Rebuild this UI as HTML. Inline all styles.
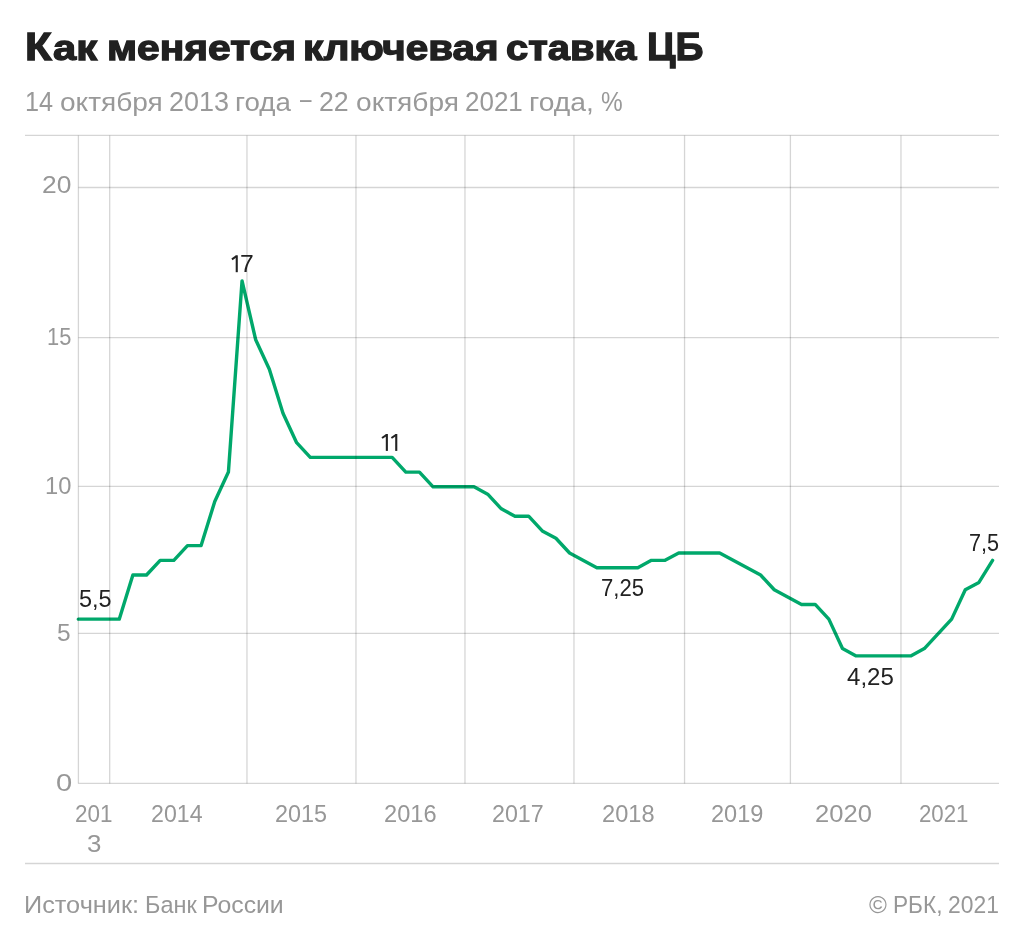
<!DOCTYPE html>
<html><head><meta charset="utf-8">
<style>
html,body{margin:0;padding:0;background:#fff;}
body{width:1024px;height:946px;position:relative;overflow:hidden;font-family:"Liberation Sans",sans-serif;}
.t{position:absolute;white-space:nowrap;line-height:1;font-family:"Liberation Sans",sans-serif;transform-origin:0 0;}
svg{position:absolute;left:0;top:0;}
</style></head>
<body>
<svg width="1024" height="946" viewBox="0 0 1024 946">
<rect x="235.70" y="255.30" width="2.1" height="16.9" fill="#222"/><line x1="236.60" y1="256.20" x2="231.90" y2="259.30" stroke="#222" stroke-width="2.0"/><rect x="385.80" y="434.00" width="2.1" height="16.9" fill="#222"/><line x1="386.70" y1="434.90" x2="382.00" y2="438.00" stroke="#222" stroke-width="2.0"/><rect x="395.20" y="434.00" width="2.1" height="16.9" fill="#222"/><line x1="396.10" y1="434.90" x2="391.40" y2="438.00" stroke="#222" stroke-width="2.0"/>
<polyline fill="none" stroke="#00a86b" stroke-width="3.4" stroke-linejoin="round" stroke-linecap="round" points="78.30,619.14 119.24,619.14 132.88,575.03 146.53,575.03 160.18,560.33 173.82,560.33 187.47,545.62 201.11,545.62 214.76,501.50 228.41,472.09 242.05,280.93 255.70,339.75 269.34,369.16 282.99,413.27 296.64,442.69 310.28,457.39 392.16,457.39 405.80,472.09 419.45,472.09 433.10,486.80 474.03,486.80 487.68,494.15 501.33,508.86 514.97,516.21 528.62,516.21 542.26,530.91 555.91,538.27 569.56,552.97 596.85,567.68 637.79,567.68 651.43,560.33 665.08,560.33 678.72,552.97 719.66,552.97 760.60,575.03 774.25,589.74 801.54,604.44 815.18,604.44 828.83,619.14 842.48,648.55 856.12,655.91 910.71,655.91 924.35,648.55 951.64,619.14 965.29,589.74 978.94,582.38 992.58,560.33"/>
<g stroke="rgba(0,0,0,0.165)" stroke-width="1.3" fill="none">
<line x1="25" y1="135.45" x2="999" y2="135.45"/>
<line x1="78.4" y1="187.5" x2="999" y2="187.5"/>
<line x1="78.4" y1="337.66" x2="999" y2="337.66"/>
<line x1="78.4" y1="486.4" x2="999" y2="486.4"/>
<line x1="78.4" y1="633.3" x2="999" y2="633.3"/>
<line x1="78.4" y1="783.45" x2="999" y2="783.45"/>
<line x1="25" y1="863.5" x2="999" y2="863.5"/>
<line x1="78.4" y1="135.45" x2="78.4" y2="783.45"/>
<line x1="109.7" y1="135.45" x2="109.7" y2="783.45"/>
<line x1="246.97" y1="135.45" x2="246.97" y2="783.45"/>
<line x1="355.97" y1="135.45" x2="355.97" y2="783.45"/>
<line x1="464.97" y1="135.45" x2="464.97" y2="783.45"/>
<line x1="573.97" y1="135.45" x2="573.97" y2="783.45"/>
<line x1="684.55" y1="135.45" x2="684.55" y2="783.45"/>
<line x1="790.4" y1="135.45" x2="790.4" y2="783.45"/>
<line x1="900.97" y1="135.45" x2="900.97" y2="783.45"/>
</g>
</svg>
<div id="tx" style="position:absolute;left:0;top:0;width:1024px;height:946px;will-change:transform">
<div class="t" style="left:24.94px;top:28.00px;font-size:38.0px;color:#212121;transform:scaleX(1.1497);font-weight:bold;-webkit-text-stroke:1.3px #212121;">К</div>
<div class="t" style="left:53.00px;top:31.00px;font-size:35.5px;color:#212121;transform:scaleX(1.1752);font-weight:bold;-webkit-text-stroke:1.3px #212121;">ак</div>
<div class="t" style="left:106.92px;top:31.00px;font-size:35.5px;color:#212121;transform:scaleX(1.1463);font-weight:bold;-webkit-text-stroke:1.3px #212121;">меняется</div>
<div class="t" style="left:303.15px;top:31.00px;font-size:35.5px;color:#212121;transform:scaleX(1.1377);font-weight:bold;-webkit-text-stroke:1.3px #212121;">ключевая</div>
<div class="t" style="left:505.60px;top:31.00px;font-size:35.5px;color:#212121;transform:scaleX(1.1233);font-weight:bold;-webkit-text-stroke:1.3px #212121;">ставка</div>
<div class="t" style="left:647.30px;top:28.00px;font-size:38.0px;color:#212121;transform:scaleX(1.0249);font-weight:bold;-webkit-text-stroke:1.3px #212121;">ЦБ</div>
<div class="t" style="left:25.00px;top:88.00px;font-size:27.2px;color:#999999;transform:scaleX(0.9279);">14</div>
<div class="t" style="left:59.68px;top:90.00px;font-size:25.6px;color:#999999;transform:scaleX(1.0966);">октября</div>
<div class="t" style="left:168.87px;top:88.00px;font-size:27.2px;color:#999999;transform:scaleX(0.9917);">2013</div>
<div class="t" style="left:234.60px;top:90.00px;font-size:25.6px;color:#999999;transform:scaleX(1.0833);">года</div>
<div class="t" style="left:299.80px;top:85.00px;font-size:27.2px;color:#999999;transform:scaleX(0.7610);">–</div>
<div class="t" style="left:318.68px;top:88.00px;font-size:27.2px;color:#999999;transform:scaleX(0.9831);">22</div>
<div class="t" style="left:355.78px;top:90.00px;font-size:25.6px;color:#999999;transform:scaleX(1.0983);">октября</div>
<div class="t" style="left:464.92px;top:88.00px;font-size:27.2px;color:#999999;transform:scaleX(0.9557);">2021</div>
<div class="t" style="left:529.20px;top:90.00px;font-size:25.6px;color:#999999;transform:scaleX(1.1036);">года,</div>
<div class="t" style="left:600.50px;top:88.00px;font-size:27.2px;color:#999999;transform:scaleX(0.8979);">%</div>
<div class="t" style="left:41.70px;top:174.00px;font-size:23.7px;color:#979797;transform:scaleX(1.1147);">20</div>
<div class="t" style="left:46.60px;top:326.00px;font-size:23.7px;color:#979797;transform:scaleX(0.9238);">15</div>
<div class="t" style="left:44.70px;top:475.00px;font-size:23.7px;color:#979797;transform:scaleX(1.0016);">10</div>
<div class="t" style="left:57.26px;top:622.00px;font-size:23.7px;color:#979797;transform:scaleX(1.0332);">5</div>
<div class="t" style="left:55.56px;top:772.00px;font-size:23.7px;color:#979797;transform:scaleX(1.2308);">0</div>
<div class="t" style="left:75.49px;top:803.00px;font-size:23.7px;color:#979797;transform:scaleX(0.9479);">201</div>
<div class="t" style="left:87.42px;top:833.00px;font-size:23.7px;color:#979797;transform:scaleX(1.0921);">3</div>
<div class="t" style="left:151.16px;top:803.00px;font-size:23.7px;color:#979797;transform:scaleX(0.9776);">2014</div>
<div class="t" style="left:275.45px;top:803.00px;font-size:23.7px;color:#979797;transform:scaleX(0.9877);">2015</div>
<div class="t" style="left:383.74px;top:803.00px;font-size:23.7px;color:#979797;transform:scaleX(0.9974);">2016</div>
<div class="t" style="left:492.46px;top:803.00px;font-size:23.7px;color:#979797;transform:scaleX(0.9814);">2017</div>
<div class="t" style="left:602.14px;top:803.00px;font-size:23.7px;color:#979797;transform:scaleX(0.9971);">2018</div>
<div class="t" style="left:711.05px;top:803.00px;font-size:23.7px;color:#979797;transform:scaleX(0.9938);">2019</div>
<div class="t" style="left:814.95px;top:803.00px;font-size:23.7px;color:#979797;transform:scaleX(1.0786);">2020</div>
<div class="t" style="left:919.20px;top:803.00px;font-size:23.7px;color:#979797;transform:scaleX(0.9392);">2021</div>
<div class="t" style="left:78.89px;top:588.00px;font-size:23.7px;color:#222222;transform:scaleX(0.9909);">5,5</div>
<div class="t" style="left:239.64px;top:253.00px;font-size:23.7px;color:#222222;transform:scaleX(1.0429);">7</div>
<div class="t" style="left:600.77px;top:577.00px;font-size:23.7px;color:#222222;transform:scaleX(0.9321);">7,25</div>
<div class="t" style="left:847.20px;top:666.00px;font-size:23.7px;color:#222222;transform:scaleX(1.0160);">4,25</div>
<div class="t" style="left:968.90px;top:532.00px;font-size:23.7px;color:#222222;transform:scaleX(0.9122);">7,5</div>
<div class="t" style="left:24.14px;top:894.00px;font-size:23.7px;color:#979797;transform:scaleX(1.0677);">Источник:</div>
<div class="t" style="left:144.60px;top:894.00px;font-size:23.7px;color:#979797;transform:scaleX(0.9909);">Банк</div>
<div class="t" style="left:202.38px;top:894.00px;font-size:23.7px;color:#979797;transform:scaleX(1.0466);">России</div>
<div class="t" style="left:869.42px;top:894.00px;font-size:23.7px;color:#979797;transform:scaleX(1.0250);">©</div>
<div class="t" style="left:893.40px;top:894.00px;font-size:23.7px;color:#979797;transform:scaleX(0.9566);">РБК,</div>
<div class="t" style="left:947.58px;top:894.00px;font-size:23.7px;color:#979797;transform:scaleX(0.9660);">2021</div>
</div>
</body></html>
